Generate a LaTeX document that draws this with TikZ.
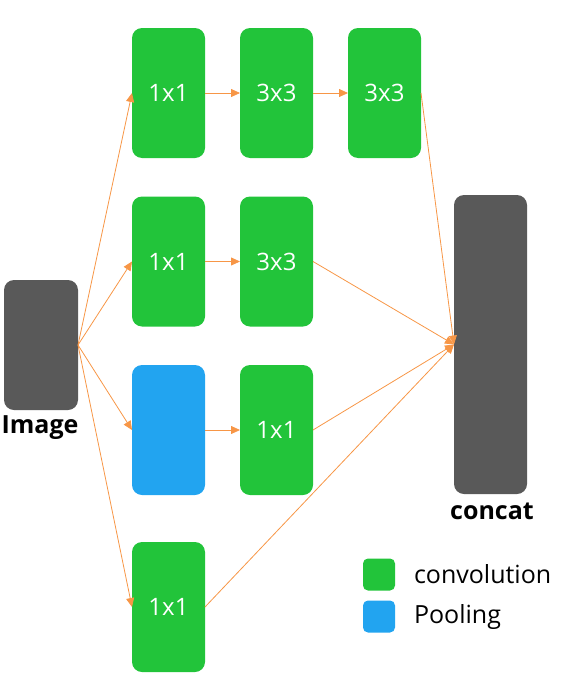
\documentclass[tikz,border=0pt]{standalone}
\usepackage{fontspec}
\setmainfont{Open Sans}
\usepackage{tikz}
\usetikzlibrary{arrows.meta}

\definecolor{convgreen}{HTML}{22C43A}
\definecolor{poolblue}{HTML}{22A4F0}
\definecolor{darkgrey}{HTML}{595959}
\definecolor{linkorange}{HTML}{F79646}

\begin{document}
\begin{tikzpicture}[x=1pt,y=-1pt,
					every node/.style = {inner sep=0pt, outer sep=0pt},
					link/.style = {draw=linkorange, line width=0.8pt, -{Triangle[length=9pt,width=8pt]}}]

\tikzstyle{layer}=[rectangle, rounded corners=10pt, minimum width=73pt, minimum height=130pt, text=white, font=\fontsize{24}{28}\selectfont]
\tikzstyle{conv}=[layer, fill=convgreen]
\tikzstyle{pool}=[layer, fill=poolblue]
\tikzstyle{grey_block}=[layer, fill=darkgrey]
\tikzstyle{caption}=[font=\bfseries\fontsize{25}{28}\selectfont]
\tikzstyle{key}=[rectangle, rounded corners=5pt, minimum size=32pt]

\useasboundingbox (0,0) rectangle (569,680);

% input and output
\node[grey_block, minimum width=74pt] (image) at (41,345) {};
\node[caption] (image_label) at (40,428) {Image};
\node[grey_block, minimum height=299pt] (concat) at (490.5,344.5) {};
\node[caption] (concat_label) at (492,511) {concat};

% branches
\node[conv] (b1_1) at (168.5,93) {1x1};
\node[conv] (b1_2) at (276.5,93) {3x3};
\node[conv] (b1_3) at (384.5,93) {3x3};
\node[conv] (b2_1) at (168.5,261.5) {1x1};
\node[conv] (b2_2) at (276.5,261.5) {3x3};
\node[pool] (b3_1) at (168.5,430) {};
\node[conv] (b3_2) at (276.5,430) {1x1};
\node[conv] (b4_1) at (168.5,607) {1x1};

% connections
\foreach \b in {b1_1, b2_1, b3_1, b4_1}
	\draw[link] (image.east) -- (\b.west);
\draw[link] (b1_1) -- (b1_2);
\draw[link] (b1_2) -- (b1_3);
\draw[link] (b2_1) -- (b2_2);
\draw[link] (b3_1) -- (b3_2);
\foreach \b in {b1_3, b2_2, b3_2, b4_1}
	\draw[link] (\b.east) -- (concat.west);

% legend
\node[key, fill=convgreen] (key_conv) at (379,574.5) {};
\node[key, fill=poolblue] (key_pool) at (379,616.5) {};
\node[anchor=west, font=\fontsize{25}{28}\selectfont] (key_conv_text) at (414,574.5) {convolution};
\node[anchor=west, font=\fontsize{25}{28}\selectfont] (key_pool_text) at (414,616.5) {Pooling};
\end{tikzpicture}
\end{document}
